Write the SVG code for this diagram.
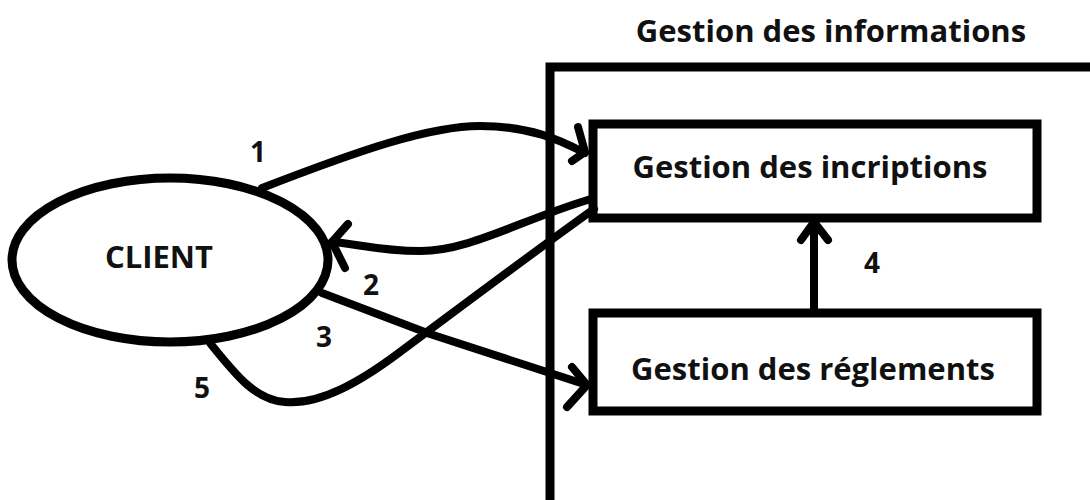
<svg xmlns="http://www.w3.org/2000/svg" width="1090" height="500" viewBox="0 0 1090 500">
<style>
.shape{fill:none;stroke:#000;stroke-width:9}
.line{fill:none;stroke:#000;stroke-width:8;stroke-linecap:round;stroke-linejoin:round}
.txt{font-family:"Open Sans","Liberation Sans",sans-serif;font-weight:bold;fill:#111;text-anchor:middle}
.big{font-size:31px}
.num{font-size:28px}
</style>
<rect width="1090" height="500" fill="#fff"/>
<g id="gestion-informations">
<rect class="shape" x="550" y="67" width="560" height="460" stroke-width="10"/>
<text class="txt big" x="831" y="42">Gestion des informations</text>
</g>
<g id="client">
<ellipse class="shape" cx="170" cy="260" rx="158" ry="82"/>
<text class="txt big" x="159" y="268">CLIENT</text>
</g>
<g id="gestion-inscriptions">
<rect class="shape" x="593" y="124" width="444" height="94" fill="#fff"/>
<text class="txt big" x="810" y="178">Gestion des incriptions</text>
</g>
<g id="gestion-reglements">
<rect class="shape" x="593" y="313" width="444" height="98" fill="#fff"/>
<text class="txt big" x="813" y="380">Gestion des réglements</text>
</g>
<g id="connectors">
<path class="line" d="M262,188 C360,150 430,126 480,126 C530,126 560,140 585,153"/>
<path class="line" d="M578,127 L585,152 L572,161"/>
<path class="line" d="M591,199 C520,220 470,251 420,251 C380,251 352,243 332,242"/>
<path class="line" d="M348,224 L332,242 L345,268"/>
<path class="line" d="M322,293 L430,334 L587,385"/>
<path class="line" d="M572,367 L587,385 L567,407"/>
<path class="line" d="M594,209 C520,262 450,315 400,352 C360,382 320,405 285,402 C255,400 235,374 210,343"/>
<path class="line" d="M814,313 L814,222"/>
<path class="line" d="M801,240 L814,222 L828,240"/>
<text class="txt num" x="258" y="162">1</text>
<text class="txt num" x="371" y="295">2</text>
<text class="txt num" x="324" y="347">3</text>
<text class="txt num" x="872" y="273">4</text>
<text class="txt num" x="202" y="398">5</text>
</g>
</svg>
